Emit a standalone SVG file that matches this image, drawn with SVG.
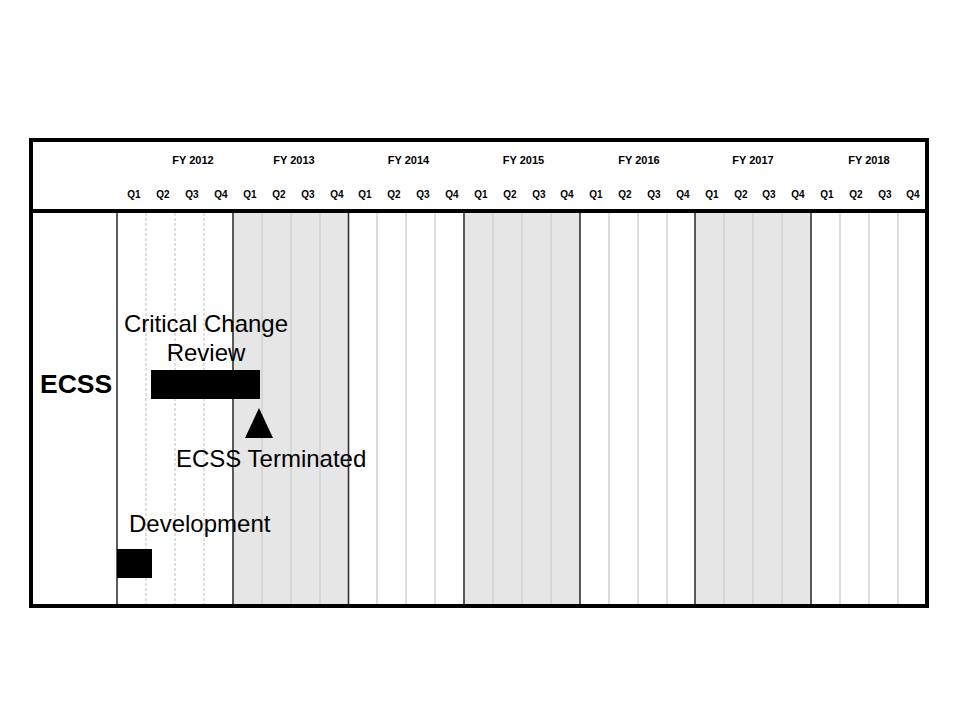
<svg xmlns="http://www.w3.org/2000/svg" width="960" height="720" viewBox="0 0 960 720">
<style>
.yr{font-family:"Liberation Sans",Arial,sans-serif;font-weight:bold;font-size:11px;fill:#000;text-anchor:middle}
.q{font-family:"Liberation Sans",Arial,sans-serif;font-weight:bold;font-size:10px;fill:#000;text-anchor:middle}
.lbl{font-family:"Liberation Sans",Arial,sans-serif;font-size:24px;fill:#000}
.shade{fill:#e6e6e6}
.qd{stroke:#c8c8c8;stroke-width:1.2;stroke-dasharray:3,2}
.qs{stroke:#d0d0d0;stroke-width:1.5}
.yb{stroke:#333;stroke-width:1.6}
</style>
<rect width="960" height="720" fill="#fff"/>
<g id="grid">
<rect class="shade" x="233" y="213" width="115.5" height="391"/>
<rect class="shade" x="464" y="213" width="116" height="391"/>
<rect class="shade" x="695" y="213" width="116" height="391"/>
<line class="qd" x1="146" y1="213" x2="146" y2="604"/>
<line class="qd" x1="175" y1="213" x2="175" y2="604"/>
<line class="qd" x1="204" y1="213" x2="204" y2="604"/>
<line class="qs" x1="262" y1="213" x2="262" y2="604"/>
<line class="qs" x1="291" y1="213" x2="291" y2="604"/>
<line class="qs" x1="320" y1="213" x2="320" y2="604"/>
<line class="qs" x1="377" y1="213" x2="377" y2="604"/>
<line class="qs" x1="406" y1="213" x2="406" y2="604"/>
<line class="qs" x1="435" y1="213" x2="435" y2="604"/>
<line class="qs" x1="493" y1="213" x2="493" y2="604"/>
<line class="qs" x1="522" y1="213" x2="522" y2="604"/>
<line class="qs" x1="551" y1="213" x2="551" y2="604"/>
<line class="qs" x1="609" y1="213" x2="609" y2="604"/>
<line class="qs" x1="638" y1="213" x2="638" y2="604"/>
<line class="qs" x1="667" y1="213" x2="667" y2="604"/>
<line class="qs" x1="724" y1="213" x2="724" y2="604"/>
<line class="qs" x1="753" y1="213" x2="753" y2="604"/>
<line class="qs" x1="782" y1="213" x2="782" y2="604"/>
<line class="qs" x1="840" y1="213" x2="840" y2="604"/>
<line class="qs" x1="869" y1="213" x2="869" y2="604"/>
<line class="qs" x1="898" y1="213" x2="898" y2="604"/>
<line class="yb" x1="117" y1="213" x2="117" y2="604"/>
<line class="yb" x1="233" y1="213" x2="233" y2="604"/>
<line class="yb" x1="348.5" y1="213" x2="348.5" y2="604"/>
<line class="yb" x1="464" y1="213" x2="464" y2="604"/>
<line class="yb" x1="580" y1="213" x2="580" y2="604"/>
<line class="yb" x1="695" y1="213" x2="695" y2="604"/>
<line class="yb" x1="811" y1="213" x2="811" y2="604"/>
</g>
<g id="frame" fill="none" stroke="#000">
<rect x="31" y="140" width="896" height="466" stroke-width="4"/>
<line x1="31" y1="211" x2="927" y2="211" stroke-width="4"/>
</g>
<g id="header">
<text class="yr" x="193" y="164">FY 2012</text>
<text class="yr" x="294" y="164">FY 2013</text>
<text class="yr" x="408.5" y="164">FY 2014</text>
<text class="yr" x="523.5" y="164">FY 2015</text>
<text class="yr" x="639" y="164">FY 2016</text>
<text class="yr" x="753" y="164">FY 2017</text>
<text class="yr" x="869" y="164">FY 2018</text>
<text class="q" x="134" y="198">Q1</text>
<text class="q" x="163" y="198">Q2</text>
<text class="q" x="192" y="198">Q3</text>
<text class="q" x="221" y="198">Q4</text>
<text class="q" x="250" y="198">Q1</text>
<text class="q" x="279" y="198">Q2</text>
<text class="q" x="308" y="198">Q3</text>
<text class="q" x="337" y="198">Q4</text>
<text class="q" x="365" y="198">Q1</text>
<text class="q" x="394" y="198">Q2</text>
<text class="q" x="423" y="198">Q3</text>
<text class="q" x="452" y="198">Q4</text>
<text class="q" x="481" y="198">Q1</text>
<text class="q" x="510" y="198">Q2</text>
<text class="q" x="539" y="198">Q3</text>
<text class="q" x="567" y="198">Q4</text>
<text class="q" x="596" y="198">Q1</text>
<text class="q" x="625" y="198">Q2</text>
<text class="q" x="654" y="198">Q3</text>
<text class="q" x="683" y="198">Q4</text>
<text class="q" x="712" y="198">Q1</text>
<text class="q" x="741" y="198">Q2</text>
<text class="q" x="769" y="198">Q3</text>
<text class="q" x="798" y="198">Q4</text>
<text class="q" x="827" y="198">Q1</text>
<text class="q" x="856" y="198">Q2</text>
<text class="q" x="885" y="198">Q3</text>
<text class="q" x="913" y="198">Q4</text>
</g>
<g id="ecss-label">
<text x="40" y="393" font-family="Liberation Sans, Arial, sans-serif" font-weight="bold" font-size="26.5px">ECSS</text>
</g>
<g id="critical-change-review">
<rect x="151" y="370" width="109" height="29" fill="#000"/>
<text class="lbl" x="206" y="332" text-anchor="middle">Critical Change</text>
<text class="lbl" x="206" y="361" text-anchor="middle">Review</text>
</g>
<g id="ecss-terminated">
<polygon points="259,408 273,438 245,438" fill="#000"/>
<text class="lbl" x="176" y="467">ECSS Terminated</text>
</g>
<g id="development">
<rect x="117" y="549" width="35" height="29" fill="#000"/>
<text class="lbl" x="129" y="532">Development</text>
</g>
</svg>
